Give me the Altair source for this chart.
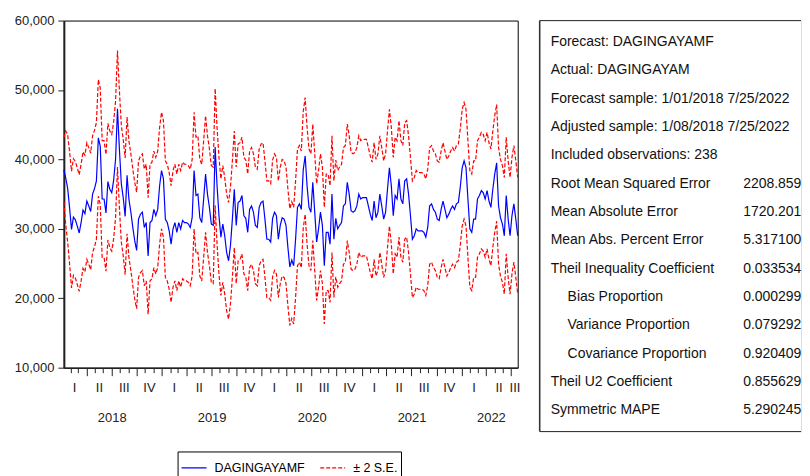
import altair as alt
import pandas as pd

FONT = "Liberation Sans"

# ---- data (weekly, 1/08/2018 .. 7/25/2022, 238 obs) ----
forecast = [
    38500, 37300, 35800, 33000, 29900, 31700, 31300, 30400, 29400, 30900,
    32700, 32200, 34000, 33300, 32500, 35000, 35800, 36900, 43100, 41900,
    34300, 34300, 32300, 36800, 35700, 35200, 37000, 40000, 47300, 41500,
    36500, 34500, 31800, 37700, 34200, 32400, 30200, 28300, 26900, 31400,
    32100, 32400, 30200, 30900, 26100, 30900, 31200, 32800, 31900, 32800,
    36200, 38400, 37200, 31400, 30900, 29700, 27800, 30000, 30900, 29500,
    30900, 30000, 31200, 30900, 30900, 30700, 30200, 31600, 38400, 34800,
    35000, 31600, 30900, 34300, 37900, 35000, 33100, 30700, 30500, 41800,
    36200, 31900, 28800, 30700, 29000, 26600, 25400, 27600, 31400, 35700,
    30500, 33800, 34000, 34800, 31900, 31500, 29500, 32800, 33300, 32400,
    30500, 30200, 33100, 33800, 34000, 31400, 28500, 28500, 28100, 31500,
    32400, 31900, 28500, 30500, 31600, 31400, 30500, 27300, 24500, 25500,
    24700, 28500, 33100, 33600, 32800, 38500, 40500, 36200, 33100, 32400,
    36700, 32400, 28100, 30000, 32400, 30500, 24700, 29500, 29500, 27800,
    35000, 28500, 31500, 30000, 30500, 30900, 33300, 33600, 36700, 35000,
    32600, 32400, 32600, 33300, 35000, 34300, 34500, 34500, 34500, 33300,
    32100, 31200, 34000, 31600, 32400, 35000, 33300, 31400, 32400, 35700,
    38800, 36200, 31900, 34800, 34300, 37200, 34300, 33600, 36900, 37200,
    35000, 31900, 28500, 29000, 30000, 29700, 29700, 29700, 29500, 28800,
    30200, 33300, 33600, 32800, 32400, 31400, 31200, 32800, 34000, 32800,
    31600, 32100, 32800, 33300, 32800, 33600, 33800, 36000, 38800, 39800,
    38800, 34300, 30000, 29500, 31400, 31400, 34300, 34800, 35500, 35200,
    34300, 35500, 34000, 33100, 35700, 37900, 39500, 33300, 31600, 30700,
    29000, 34800, 31400, 29000, 31900, 33600, 31400, 29000,
]

upper = [
    43100, 44100, 43500, 41100, 38300, 40100, 39700, 38800, 37800, 39300,
    41100, 40600, 42400, 41700, 40900, 43400, 44200, 45300, 51500, 50300,
    42700, 42700, 40700, 45200, 44100, 43600, 45400, 48400, 55700, 49900,
    44900, 42900, 40200, 46100, 42600, 40800, 38600, 36700, 35300, 39800,
    40500, 40800, 38600, 39300, 34500, 39300, 39600, 41200, 40300, 41200,
    44600, 46800, 45600, 39800, 39300, 38100, 36200, 38400, 39300, 37900,
    39300, 38400, 39600, 39300, 39300, 39100, 38600, 40000, 46800, 43200,
    43400, 40000, 39300, 42700, 46300, 43400, 41500, 39100, 38900, 50200,
    44600, 40300, 37200, 39100, 37400, 35000, 33800, 36000, 39800, 44100,
    38900, 42200, 42400, 43200, 40300, 39900, 37900, 41200, 41700, 40800,
    38900, 38600, 41500, 42200, 42400, 39800, 36900, 36900, 36500, 39900,
    40800, 40300, 36900, 38900, 40000, 39800, 38900, 35700, 32900, 33900,
    33100, 36900, 41500, 42000, 41200, 46900, 48900, 44600, 41500, 40800,
    45100, 40800, 36500, 38400, 40800, 38900, 33100, 37900, 37900, 36200,
    43400, 36900, 39900, 38400, 38900, 39300, 41700, 42000, 45100, 43400,
    41000, 40800, 41000, 41700, 43400, 42700, 42900, 42900, 42900, 41700,
    40500, 39600, 42400, 40000, 40800, 43400, 41700, 39800, 40800, 44100,
    47200, 44600, 40300, 43200, 42700, 45600, 42700, 42000, 45300, 45600,
    43400, 40300, 36900, 37400, 38400, 38100, 38100, 38100, 37900, 37200,
    38600, 41700, 42000, 41200, 40800, 39800, 39600, 41200, 42400, 41200,
    40000, 40500, 41200, 41700, 41200, 42000, 42200, 44400, 47200, 48200,
    47200, 42700, 38400, 37900, 39800, 39800, 42700, 43200, 43900, 43600,
    42700, 43900, 42400, 41500, 44100, 46300, 47900, 41700, 40000, 39100,
    37400, 43200, 39800, 37400, 40300, 42000, 39800, 37400,
]

lower = [
    33900, 30500, 28100, 24900, 21500, 23300, 22900, 22000, 21000, 22500,
    24300, 23800, 25600, 24900, 24100, 26600, 27400, 28500, 34700, 33500,
    25900, 25900, 23900, 28400, 27300, 26800, 28600, 31600, 38900, 33100,
    28100, 26100, 23400, 29300, 25800, 24000, 21800, 19900, 18500, 23000,
    23700, 24000, 21800, 22500, 17700, 22500, 22800, 24400, 23500, 24400,
    27800, 30000, 28800, 23000, 22500, 21300, 19400, 21600, 22500, 21100,
    22500, 21600, 22800, 22500, 22500, 22300, 21800, 23200, 30000, 26400,
    26600, 23200, 22500, 25900, 29500, 26600, 24700, 22300, 22100, 33400,
    27800, 23500, 20400, 22300, 20600, 18200, 17000, 19200, 23000, 27300,
    22100, 25400, 25600, 26400, 23500, 23100, 21100, 24400, 24900, 24000,
    22100, 21800, 24700, 25400, 25600, 23000, 20100, 20100, 19700, 23100,
    24000, 23500, 20100, 22100, 23200, 23000, 22100, 18900, 16100, 17100,
    16300, 20100, 24700, 25200, 24400, 30100, 32100, 27800, 24700, 24000,
    28300, 24000, 19700, 21600, 24000, 22100, 16300, 21100, 21100, 19400,
    26600, 20100, 23100, 21600, 22100, 22500, 24900, 25200, 28300, 26600,
    24200, 24000, 24200, 24900, 26600, 25900, 26100, 26100, 26100, 24900,
    23700, 22800, 25600, 23200, 24000, 26600, 24900, 23000, 24000, 27300,
    30400, 27800, 23500, 26400, 25900, 28800, 25900, 25200, 28500, 28800,
    26600, 23500, 20100, 20600, 21600, 21300, 21300, 21300, 21100, 20400,
    21800, 24900, 25200, 24400, 24000, 23000, 22800, 24400, 25600, 24400,
    23200, 23700, 24400, 24900, 24400, 25200, 25400, 27600, 30400, 31400,
    30400, 25900, 21600, 21100, 23000, 23000, 25900, 26400, 27100, 26800,
    25900, 27100, 25600, 24700, 27300, 29500, 31100, 24900, 23200, 22300,
    20600, 26400, 23000, 20600, 23500, 25200, 23000, 20600,
]

series_names = ["DAGINGAYAMF", "\u00b1 2 S.E."]
y_ticks = [10000, 20000, 30000, 40000, 50000, 60000]

quarter_label_dates = [
    (2018, 2, 14), (2018, 5, 16), (2018, 8, 15), (2018, 11, 15),
    (2019, 2, 14), (2019, 5, 16), (2019, 8, 15), (2019, 11, 15),
    (2020, 2, 14), (2020, 5, 16), (2020, 8, 15), (2020, 11, 15),
    (2021, 2, 14), (2021, 5, 16), (2021, 8, 15), (2021, 11, 15),
    (2022, 2, 14), (2022, 5, 16), (2022, 7, 13),
]
year_label_dates = [(2018, 7, 2), (2019, 7, 2), (2020, 7, 2), (2021, 7, 2), (2022, 4, 18)]

stat_labels = [
    "Forecast: DAGINGAYAMF",
    "Actual: DAGINGAYAM",
    "Forecast sample: 1/01/2018 7/25/2022",
    "Adjusted sample: 1/08/2018 7/25/2022",
    "Included observations: 238",
    "Root Mean Squared Error",
    "Mean Absolute Error",
    "Mean Abs. Percent Error",
    "Theil Inequality Coefficient",
    "Bias Proportion",
    "Variance Proportion",
    "Covariance Proportion",
    "Theil U2 Coefficient",
    "Symmetric MAPE",
]
stat_values = ["", "", "", "", "", "2208.859", "1720.201", "5.317100", "0.033534",
               "0.000299", "0.079292", "0.920409", "0.855629", "5.290245"]
stat_indent = [0, 0, 0, 0, 0, 0, 0, 0, 0, 1, 1, 1, 0, 0]

# ---- build tables ----
dates = pd.date_range("2018-01-08", periods=len(forecast), freq="7D")
rows = []
for key, sname, arr in [("forecast", series_names[0], forecast),
                        ("upper", series_names[1], upper),
                        ("lower", series_names[1], lower)]:
    for d, v in zip(dates, arr):
        rows.append({"date": d.strftime("%Y-%m-%dT00:00:00"), "value": v,
                     "line": key, "series": sname})
df = pd.DataFrame(rows)

month_ticks = [alt.DateTime(year=y, month=m, date=1)
               for y in range(2018, 2023) for m in range(1, 13)
               if (y, m) > (2018, 1) and (y, m) <= (2022, 7)]
quarter_vals = [alt.DateTime(year=y, month=m, date=d) for (y, m, d) in quarter_label_dates]
year_vals = [alt.DateTime(year=y, month=m, date=d) for (y, m, d) in year_label_dates]

x_scale = alt.Scale(domain=[alt.DateTime(year=2018, month=1, date=8),
                            alt.DateTime(year=2022, month=7, date=25)], nice=False)

x_axis = alt.Axis(
    values=month_ticks + quarter_vals,
    tickSize={"condition": [
        {"test": "date(datum.value) == 1 && month(datum.value) % 3 == 0", "value": 8},
        {"test": "date(datum.value) == 1", "value": 5}], "value": 0},
    labelExpr="date(datum.value) == 1 ? '' : ['I','II','III','IV'][floor(month(datum.value) / 3)]",
    labelPadding=14, labelFontSize=13, labelFont=FONT, labelColor="#222",
    labelOverlap=False, labelFlush=False, labelBound=False,
    domainColor="#222", domainWidth=1.5, tickColor="#222", grid=False,
    title=None, orient="bottom",
)
year_axis = alt.Axis(
    values=year_vals, format="%Y", ticks=False, domain=False,
    labelPadding=44, labelFontSize=13, labelFont=FONT, labelColor="#222",
    labelOverlap=False, labelFlush=False, labelBound=False, grid=False,
    title=None, orient="bottom",
)
y_axis = alt.Axis(
    values=y_ticks, format=",d", tickSize=6, labelPadding=4, labelFontSize=13,
    labelFont=FONT, labelColor="#222", domainColor="#222", domainWidth=2,
    tickColor="#222", grid=False, title=None,
)

legend = alt.Legend(
    title=None, orient="none", legendX=114, legendY=432, direction="horizontal",
    strokeColor="black", padding=3, symbolType="stroke", symbolSize=625,
    symbolStrokeWidth=1.2, labelFontSize=12.5, labelFont=FONT, labelColor="black",
    columnPadding=12, labelOffset=7,
)

lines = alt.Chart(df).mark_line(strokeWidth=1.2).encode(
    x=alt.X("date:T", scale=x_scale, axis=x_axis),
    y=alt.Y("value:Q", scale=alt.Scale(domain=[10000, 60000], nice=False), axis=y_axis),
    color=alt.Color("series:N", scale=alt.Scale(domain=series_names, range=["#0000FF", "#FF0000"]),
                    legend=legend),
    strokeDash=alt.StrokeDash("series:N", scale=alt.Scale(domain=series_names, range=[[1, 0], [4, 2]]),
                              legend=legend),
    detail="line:N",
)

year_layer = alt.Chart(df).mark_rule(opacity=0, strokeWidth=0).encode(
    x=alt.X("date:T", scale=x_scale, axis=year_axis),
)

main = alt.layer(lines, year_layer).resolve_axis(x="independent").properties(
    width=455, height=348, view=alt.ViewBackground(stroke="black", strokeWidth=1)
)

PANEL_W = 262
PANEL_H = 412
panel_df = pd.DataFrame({"row": list(range(len(stat_labels))), "label": stat_labels,
                         "value": stat_values, "indent": stat_indent})
pbase = alt.Chart(panel_df).encode(
    y=alt.Y("row:O", scale=alt.Scale(type="point", padding=0.754), axis=None)
)
plabels = pbase.mark_text(align="left", baseline="middle", fontSize=14, font=FONT, color="#111").encode(
    x=alt.X("indent:Q", scale=alt.Scale(domain=[0, 1], range=[11, 28]), axis=None),
    text="label:N",
)
pvalues = pbase.mark_text(align="left", baseline="middle", fontSize=14, font=FONT, color="#111").encode(
    x=alt.value(204),
    text="value:N",
)
frame_src = alt.Chart(pd.DataFrame({"k": [0]}))
border_left = frame_src.mark_rule(color="#333", strokeWidth=1.5).encode(
    x=alt.value(0), y=alt.value(0), y2=alt.value(PANEL_H))
border_top = frame_src.mark_rule(color="#333", strokeWidth=1).encode(
    x=alt.value(0), x2=alt.value(PANEL_W), y=alt.value(0))
border_bottom = frame_src.mark_rule(color="#333", strokeWidth=1).encode(
    x=alt.value(0), x2=alt.value(PANEL_W), y=alt.value(PANEL_H))
panel = alt.layer(border_left, border_top, border_bottom, plabels, pvalues).properties(
    width=PANEL_W, height=PANEL_H
)

chart = alt.hconcat(main, panel, spacing=22, bounds="flush").resolve_scale(
    color="independent", strokeDash="independent"
).properties(
    padding={"left": 5, "top": 5, "right": 0, "bottom": 0}
).configure_view(strokeWidth=0).configure(font=FONT, background="white")

chart.save("out.html", embed_options={"renderer": "svg", "actions": False})
